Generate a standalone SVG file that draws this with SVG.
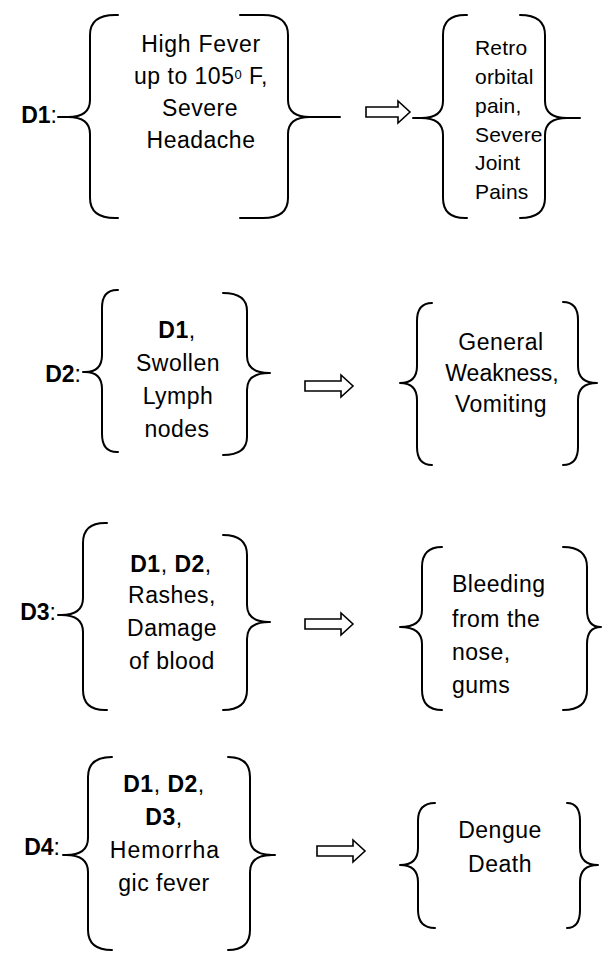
<svg xmlns="http://www.w3.org/2000/svg" width="603" height="953" viewBox="0 0 603 953">
<style>
.br{fill:none;stroke:#000;stroke-width:2;stroke-linejoin:round;stroke-linecap:round}
.ar{fill:#fff;stroke:#000;stroke-width:1.6;stroke-linejoin:miter}
text{font-family:"Liberation Sans",Arial,sans-serif;fill:#000;font-size:23px;letter-spacing:0.5px}
.c{text-anchor:middle}
.e{text-anchor:end}
.b{font-weight:bold}
.lab{font-size:23px;letter-spacing:0}
.r1{font-size:21px;letter-spacing:0.2px}
</style>
<rect width="603" height="953" fill="#fff"/>

<g id="connectors">
<polygon class="ar" points="366,107 398,107 398,101 410,112 398,123 398,117 366,117"/>
<polygon class="ar" points="305,381 341,381 341,375 353,386 341,397 341,391 305,391"/>
<polygon class="ar" points="305,619 341,619 341,613 353,624 341,635 341,629 305,629"/>
<polygon class="ar" points="317,846 353,846 353,840 365,851 353,862 353,856 317,856"/>
</g>

<g id="D1">
<text class="lab e" x="57" y="123"><tspan class="b">D1</tspan>:</text>
<path class="br" d="M118,15 L115,15 Q90,15 90,35 L90,100 Q90,117 68,117 L58,117 L68,117 Q90,117 90,134 L90,198 Q90,218 115,218 L118,218"/>
<path class="br" d="M240,15 L263,15 Q288,15 288,35 L288,100 Q288,117 310,117 L340,117 L310,117 Q288,117 288,134 L288,198 Q288,218 263,218 L240,218"/>
<text class="c" x="201" y="52" style="letter-spacing:0.7px">High Fever</text>
<text class="c" x="201" y="84">up to 105<tspan font-size="13" dy="-5">0</tspan><tspan dy="5"> F,</tspan></text>
<text class="c" x="200" y="116">Severe</text>
<text class="c" x="201" y="148">Headache</text>
</g>

<g id="D1-result">
<path class="br" d="M467,15 L465,15 Q443,15 443,35 L443,101 Q443,118 421,118 L413,118 L421,118 Q443,118 443,135 L443,198 Q443,218 465,218 L467,218"/>
<path class="br" d="M520,15 Q545,15 545,35 L545,101 Q545,118 567,118 L580,118 L567,118 Q545,118 545,135 L545,198 Q545,218 520,218"/>
<text class="r1" x="475" y="55">Retro</text>
<text class="r1" x="475" y="84">orbital</text>
<text class="r1" x="475" y="113">pain,</text>
<text class="r1" x="475" y="142">Severe</text>
<text class="r1" x="475" y="170">Joint</text>
<text class="r1" x="475" y="199">Pains</text>
</g>

<g id="D2">
<text class="lab e" x="81" y="382"><tspan class="b">D2</tspan>:</text>
<path class="br" d="M118,290 L117,290 Q102,290 102,308 L102,355 Q102,372 85,372 L83,372 L85,372 Q102,372 102,389 L102,434 Q102,452 117,452 L118,452"/>
<path class="br" d="M223,293 Q247,293 247,311 L247,356 Q247,373 269,373 L270,373 L269,373 Q247,373 247,390 L247,437 Q247,455 223,455"/>
<text class="c" x="177" y="338"><tspan class="b">D1</tspan>,</text>
<text class="c" x="178" y="371">Swollen</text>
<text class="c" x="178" y="404">Lymph</text>
<text class="c" x="177" y="437">nodes</text>
</g>

<g id="D2-result">
<path class="br" d="M432,303 Q417,303 417,321 L417,366 Q417,383 400,383 Q417,383 417,400 L417,447 Q417,465 432,465"/>
<path class="br" d="M563,302 Q578,302 578,320 L578,366 Q578,383 597,383 Q578,383 578,400 L578,447 Q578,465 563,465"/>
<text class="c" x="501" y="350" font-size="22.5">General</text>
<text class="c" x="502" y="381" font-size="21" style="letter-spacing:0">Weakness,</text>
<text class="c" x="501" y="412" font-size="22.5">Vomiting</text>
</g>

<g id="D3">
<text class="lab e" x="56" y="620"><tspan class="b">D3</tspan>:</text>
<path class="br" d="M107,523 L105,523 Q83,523 83,543 L83,598 Q83,615 61,615 L58,615 L61,615 Q83,615 83,632 L83,690 Q83,710 105,710 L107,710"/>
<path class="br" d="M223,535 Q247,535 247,555 L247,605 Q247,622 269,622 L270,622 L269,622 Q247,622 247,639 L247,690 Q247,710 223,710"/>
<text class="c" x="171" y="572"><tspan class="b">D1</tspan>, <tspan class="b">D2</tspan>,</text>
<text class="c" x="172" y="603">Rashes,</text>
<text class="c" x="172" y="636">Damage</text>
<text class="c" x="172" y="669">of blood</text>
</g>

<g id="D3-result">
<path class="br" d="M442,547 Q422,547 422,567 L422,610 Q422,627 400,627 Q422,627 422,644 L422,690 Q422,710 442,710"/>
<path class="br" d="M563,547 Q587,547 587,567 L587,610 Q587,627 601,627 Q587,627 587,644 L587,690 Q587,710 563,710"/>
<text x="452" y="592">Bleeding</text>
<text x="452" y="627">from the</text>
<text x="452" y="660">nose,</text>
<text x="452" y="693">gums</text>
</g>

<g id="D4">
<text class="lab e" x="60" y="855"><tspan class="b">D4</tspan>:</text>
<path class="br" d="M112,757 Q88,757 88,777 L88,838 Q88,855 66,855 L63,855 L66,855 Q88,855 88,872 L88,930 Q88,950 112,950"/>
<path class="br" d="M228,757 Q250,757 250,777 L250,838 Q250,855 272,855 L275,855 L272,855 Q250,855 250,872 L250,930 Q250,950 228,950"/>
<text class="c" x="164" y="792"><tspan class="b">D1</tspan>, <tspan class="b">D2</tspan>,</text>
<text class="c" x="164" y="825"><tspan class="b">D3</tspan>,</text>
<text class="c" x="165" y="858" style="letter-spacing:1px">Hemorrha</text>
<text class="c" x="164" y="891">gic fever</text>
</g>

<g id="D4-result">
<path class="br" d="M435,803 Q418,803 418,821 L418,848 Q418,865 400,865 Q418,865 418,882 L418,910 Q418,928 435,928"/>
<path class="br" d="M567,803 Q580,803 580,821 L580,848 Q580,865 598,865 Q580,865 580,882 L580,910 Q580,928 567,928"/>
<text class="c" x="500" y="838">Dengue</text>
<text class="c" x="500" y="872">Death</text>
</g>
</svg>
